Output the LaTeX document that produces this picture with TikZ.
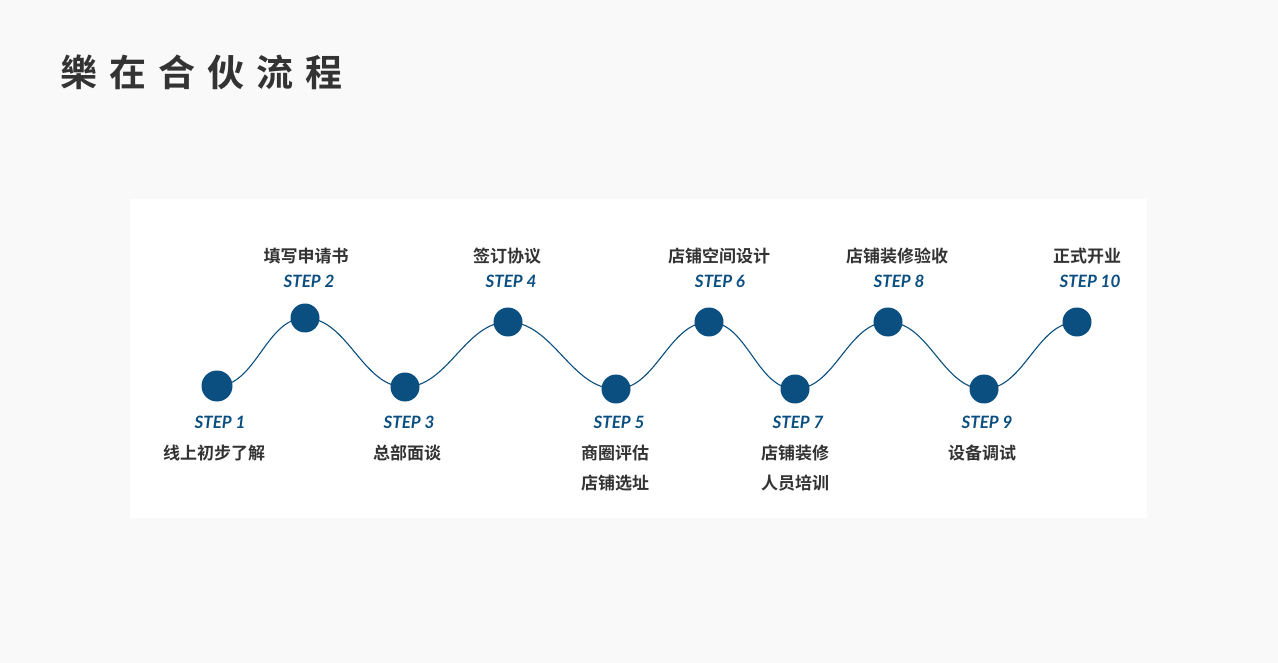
\documentclass[tikz,border=0pt]{standalone}
\usepackage{fontspec}
\usetikzlibrary{calc}
\setmainfont{Lato}
\newfontfamily\cjk{Noto Sans CJK SC}[BoldFont={* Bold}]
\definecolor{bg}{HTML}{F9F9F9}
\definecolor{navy}{HTML}{0B4F80}
\definecolor{txt}{HTML}{333333}
\begin{document}
\begin{tikzpicture}[x=1pt,y=-1pt,
  dot/.style={circle,fill=navy,inner sep=0pt,minimum size=29pt},
  steplbl/.style={font=\bfseries\itshape\fontsize{17}{17}\selectfont,text=navy,inner sep=0pt},
  cnlbl/.style={font=\cjk\bfseries\fontsize{17}{30}\selectfont,text=txt,inner sep=0pt,align=center},
  wave/.style={draw=navy,line width=1.1pt}]
\fill[bg] (0,0) rectangle (1278,663);
\useasboundingbox (0,0) rectangle (1278,663);
\fill[white] (130,199) rectangle (1147,518);
\node[anchor=west,inner sep=0pt,font=\cjk\bfseries\fontsize{37}{37}\selectfont,text=txt] (title) at (60,72) {樂\hspace{12pt}在\hspace{12pt}合\hspace{12pt}伙\hspace{12pt}流\hspace{12pt}程};
\foreach \i/\x/\y in {1/217/386,2/305/318,3/405/387,4/508/322,5/616/389,6/709/322,7/795/389,8/888/322,9/984/389,10/1077/322}{
  \coordinate (c\i) at (\x,\y);
}
\foreach \a/\b in {1/2,2/3,3/4,4/5,5/6,6/7,7/8,8/9,9/10}{
  \draw[wave] (c\a) to[out=0,in=180,looseness=0.9] (c\b);
}
\foreach \i in {1,...,10}{ \node[dot] (n\i) at (c\i) {}; }
\node[dot,minimum size=31pt] at (c1) {};
% bottom labels
\node[steplbl] (s1) at (220,422) {STEP 1};
\node[steplbl] (s3) at (409,422) {STEP 3};
\node[steplbl] (s5) at (619,422) {STEP 5};
\node[steplbl] (s7) at (798,422) {STEP 7};
\node[steplbl] (s9) at (987,422) {STEP 9};
\node[cnlbl,anchor=north] (t1) at (214,445) {线上初步了解};
\node[cnlbl,anchor=north] (t3) at (407,445) {总部面谈};
\node[cnlbl,anchor=north] (t5) at (615,445) {商圈评估\\店铺选址};
\node[cnlbl,anchor=north] (t7) at (795,445) {店铺装修\\人员培训};
\node[cnlbl,anchor=north] (t9) at (982,445) {设备调试};
% top labels
\node[steplbl] (s2) at (309,281) {STEP 2};
\node[steplbl] (s4) at (511,281) {STEP 4};
\node[steplbl] (s6) at (720,281) {STEP 6};
\node[steplbl] (s8) at (899,281) {STEP 8};
\node[steplbl] (s10) at (1090,281) {STEP 10};
\node[cnlbl] (t2) at (306,256) {填写申请书};
\node[cnlbl] (t4) at (507,256) {签订协议};
\node[cnlbl] (t6) at (719,256) {店铺空间设计};
\node[cnlbl] (t8) at (897,256) {店铺装修验收};
\node[cnlbl] (t10) at (1087,256) {正式开业};
\end{tikzpicture}
\end{document}
